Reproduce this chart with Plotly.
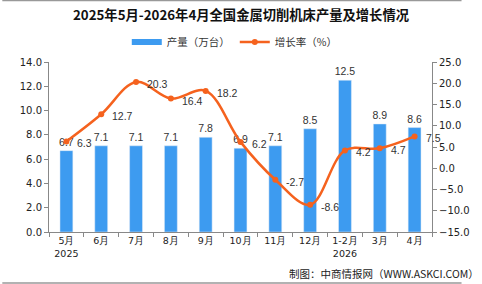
import plotly.graph_objects as go

categories = ["5月<br>2025", "6月", "7月", "8月", "9月", "10月", "11月", "12月", "1-2月<br>2026", "3月", "4月"]
production = [6.7, 7.1, 7.1, 7.1, 7.8, 6.9, 7.1, 8.5, 12.5, 8.9, 8.6]
growth = [6.3, 12.7, 20.3, 16.4, 18.2, 6.2, -2.7, -8.6, 4.2, 4.7, 7.5]

BAR = "#3D9BF0"
LINE = "#F5621E"
FONT = "DejaVu Sans"
LBL = "Liberation Sans"

fig = go.Figure()
fig.add_trace(go.Bar(
    x=categories, y=production, name="产量（万台）", showlegend=False,
    marker=dict(color=BAR), width=0.37,
    text=[f"{v:.1f}" for v in production], textposition="outside",
    textfont=dict(size=10.5, color="#333333", family=LBL), cliponaxis=False,
    constraintext="none", yaxis="y",
))
# legend proxy for the bar series (wide rectangle)
fig.add_trace(go.Scatter(
    x=[None], y=[None], name="产量（万台）", mode="lines",
    line=dict(color=BAR, width=6), yaxis="y",
))
fig.add_trace(go.Scatter(
    x=categories, y=growth, name="增长率（%）", yaxis="y2",
    mode="lines+markers",
    line=dict(color=LINE, width=2.5, shape="spline", smoothing=1.0),
    marker=dict(color=LINE, size=6), cliponaxis=False,
))

W, H = 482, 284
L, R, T, B = 49, 31, 62, 52
pw, ph = W - L - R, H - T - B

def px(x):
    return (x - L) / pw

def py(y):
    return (H - B - y) / ph

line_labels = [
    dict(text=f"{v:.1f}", x=c, y=v, xref="x", yref="y2", xanchor="left", yanchor="middle",
         xshift=9, yshift=-2, showarrow=False,
         font=dict(size=10.5, color="#333333", family=LBL))
    for c, v in zip(categories, growth)
]

fig.update_layout(
    width=W, height=H,
    margin=dict(l=L, r=R, t=T, b=B),
    paper_bgcolor="white", plot_bgcolor="white",
    font=dict(family=FONT, size=10, color="#333333"),
    title=dict(text="<b>2025年5月-2026年4月全国金属切削机床产量及增长情况</b>",
               x=0.5, xanchor="center", y=1 - 15 / H, yanchor="middle",
               font=dict(size=13.3, color="#111111", family="Noto Sans CJK SC")),
    legend=dict(orientation="h", x=px(244), xanchor="center", y=py(42), yanchor="middle",
                font=dict(size=10.5, color="#333333", family="Noto Sans CJK SC"),
                bgcolor="rgba(0,0,0,0)", traceorder="normal"),
    showlegend=True,
    xaxis=dict(showline=True, linecolor="#888888", linewidth=1, ticks="outside",
               tickson="boundaries", ticklen=4, tickcolor="#888888", tickangle=0,
               tickfont=dict(size=9.5, color="#222222", family=FONT), showgrid=False,
               range=[-0.5, 10.5]),
    yaxis=dict(range=[0, 14], dtick=2, tickformat=".1f", showline=True, linecolor="#888888",
               ticks="outside", ticklen=4, tickcolor="#888888", showgrid=False, zeroline=False,
               tickfont=dict(size=10, color="#222222", family=FONT)),
    yaxis2=dict(range=[-15, 25], dtick=5, tickformat=".1f", overlaying="y", side="right",
                showline=True, linecolor="#888888", ticks="outside", ticklen=4,
                tickcolor="#888888", showgrid=False, zeroline=False,
                tickfont=dict(size=10, color="#222222", family=FONT)),
    shapes=[
        dict(type="line", xref="paper", yref="paper", x0=px(0), x1=px(W), y0=py(0.5), y1=py(0.5),
             line=dict(color="#999999", width=1.5)),
        dict(type="line", xref="paper", yref="paper", x0=px(0), x1=px(W), y0=py(283), y1=py(283),
             line=dict(color="#999999", width=1.5)),
    ],
    annotations=line_labels + [
        dict(text="制图：中商情报网（WWW.ASKCI.COM）", xref="paper", yref="paper",
             x=px(502), y=py(273), xanchor="right", yanchor="middle", showarrow=False,
             font=dict(size=10.5, color="#222222", family="Noto Sans CJK SC")),
    ],
)

fig.write_html("out.html")
